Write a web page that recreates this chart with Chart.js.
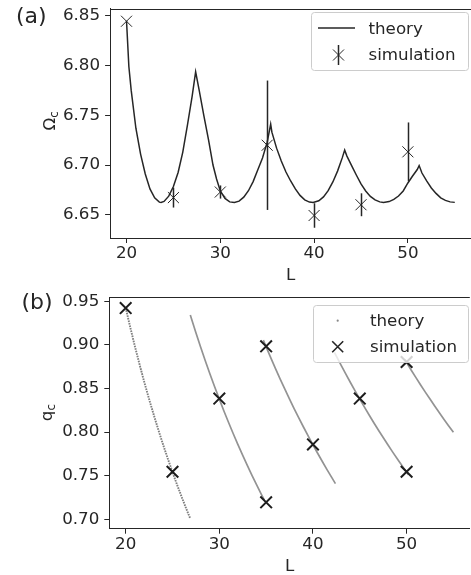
<!DOCTYPE html>
<html><head><meta charset="utf-8">
<script src="https://cdn.jsdelivr.net/npm/chart.js@4.4.1/dist/chart.umd.min.js"></script>
<style>
html,body{margin:0;padding:0;background:#fff;overflow:hidden;width:471px;height:575px;}
#wrapA{position:absolute;left:0;top:0;width:480px;height:287px;}
#wrapB{position:absolute;left:0;top:287px;width:480px;height:288px;}
canvas{display:block;}
</style></head><body>
<div id="wrapA"><canvas id="cA" width="480" height="287"></canvas></div>
<div id="wrapB"><canvas id="cB" width="480" height="288"></canvas></div>
<script>
// ---------- Panel (a): critical frequency ----------
const theoryL = [20.0,20.25,20.5,21.0,21.5,22.0,22.5,23.0,23.5,23.68,24.0,24.5,25.0,25.5,26.0,26.5,27.0,27.37,
  27.75,28.24,28.75,29.22,29.6,30.0,30.5,31.0,31.5,32.0,32.5,33.0,33.5,34.0,34.5,35.0,35.37,
  35.5,36.0,36.5,37.0,37.5,38.0,38.5,39.0,39.5,39.9,40.5,41.0,41.5,42.0,42.5,43.0,43.26,
  43.5,44.0,44.5,45.0,45.5,46.0,46.5,47.0,47.4,48.0,48.5,49.0,49.5,50.0,50.5,51.0,51.2,
  51.5,52.0,52.5,53.0,53.5,54.0,54.5,55.0];
const theoryOmega = [6.845,6.799,6.775,6.737,6.711,6.691,6.676,6.667,6.6627,6.6624,6.6634,6.6687,6.6784,6.6925,6.7130,6.7403,6.7693,6.7937,
  6.775,6.750,6.725,6.700,6.686,6.674,6.6665,6.663,6.6624,6.6637,6.6677,6.6742,6.6834,6.6952,6.707,6.723,6.741,
  6.733,6.717,6.704,6.693,6.684,6.676,6.6695,6.665,6.6628,6.6624,6.6641,6.668,6.6743,6.683,6.6939,6.7072,6.715,
  6.709,6.6995,6.690,6.681,6.674,6.6685,6.665,6.663,6.6624,6.6633,6.6655,6.6689,6.674,6.682,6.689,6.6955,6.6995,
  6.692,6.684,6.677,6.6715,6.667,6.6645,6.663,6.6625];
const simL = [20,25,30,35,40,45,50];
const simOmega = [6.8445,6.6673,6.6729,6.7199,6.6493,6.6601,6.7133];
const simOmegaErr = [0,0.010,0.0066,0.065,0.0123,0.0115,0.0295];
const omegaTicks = [6.65,6.70,6.75,6.80,6.85];
const lTicks = [20,30,40,50];

// ---------- Panel (b): critical wavenumber ----------
const branch1L = [20,20.5,21,21.5,22,22.5,23,23.5,24,24.5,25,25.5,26,26.5,26.9];
const branch1Q = [0.9425,0.9195,0.8976,0.8767,0.8568,0.8378,0.8196,0.8021,0.7854,0.7694,0.7540,0.7392,0.7250,0.7113,0.7007];
const branch2L = [26.9,27.5,28,28.5,29,29.5,30,30.5,31,31.5,32,32.5,33,33.5,34,34.5,34.8];
const branch2Q = [0.9342,0.9138,0.8975,0.8818,0.8666,0.8519,0.8377,0.8239,0.8107,0.7978,0.7853,0.7732,0.7615,0.7501,0.7391,0.7284,0.7222];
const branch3L = [34.7,35,35.5,36,36.5,37,37.5,38,38.5,39,39.5,40,40.5,41,41.5,42,42.4];
const branch3Q = [0.9054,0.8976,0.8850,0.8727,0.8607,0.8491,0.8378,0.8267,0.8160,0.8055,0.7953,0.7854,0.7757,0.7662,0.7570,0.7480,0.7409];
const branch4L = [42.3,42.5,43,43.5,44,44.5,45,45.5,46,46.5,47,47.5,48,48.5,49,49.5,50,50.2];
const branch4Q = [0.8912,0.8870,0.8767,0.8666,0.8568,0.8472,0.8378,0.8285,0.8195,0.8107,0.8021,0.7937,0.7854,0.7773,0.7694,0.7616,0.7540,0.7510];
const branch5L = [49.8,50,50.5,51,51.5,52,52.5,53,53.5,54,54.5,55];
const branch5Q = [0.8832,0.8796,0.8709,0.8624,0.8540,0.8458,0.8378,0.8298,0.8221,0.8145,0.8070,0.7997];
const simQL = [20,25,30,35,35,40,45,50,50];
const simQ = [0.9421,0.7545,0.8384,0.8983,0.7194,0.7858,0.8384,0.7545,0.8803];
const qTicks = [0.70,0.75,0.80,0.85,0.90,0.95];

const INK = '#262626';
const FONT = '"DejaVu Sans", "Liberation Sans", sans-serif';
const FS = 16.7;
Chart.defaults.font.family = FONT;
Chart.defaults.font.size = FS;
Chart.defaults.color = INK;

const pts = (xs, ys) => xs.map((v, i) => ({x: v, y: ys[i]}));

function axis(min, max, ticks, fmt, fit, isX, pad) {
  return {
    type: 'linear', min, max,
    afterBuildTicks: s => { s.ticks = ticks.map(v => ({value: v})); },
    afterFit: s => {
      if (isX) s.height = fit; else s.width = fit;
      s.paddingTop = 0; s.paddingBottom = 0; s.paddingLeft = 0; s.paddingRight = 0;
    },
    ticks: {callback: v => fmt(v), padding: pad, color: INK, font: {size: FS}, autoSkip: false, maxRotation: 0, minRotation: 0},
    grid: {drawOnChartArea: false, drawTicks: true, tickLength: 5, tickColor: INK, tickWidth: 1},
    border: {display: true, color: INK, width: 1}
  };
}

function legendBox(ctx, x0, y0, x1, y1) {
  ctx.save();
  ctx.beginPath();
  ctx.roundRect(x0 + 0.5, y0 + 0.5, x1 - x0, y1 - y0, 3);
  ctx.fillStyle = 'rgba(255,255,255,0.8)';
  ctx.fill();
  ctx.strokeStyle = '#cccccc';
  ctx.lineWidth = 1;
  ctx.stroke();
  ctx.restore();
}
function drawX(ctx, cx, cy, h, lw, color) {
  ctx.save();
  ctx.strokeStyle = color; ctx.lineWidth = lw;
  ctx.beginPath();
  ctx.moveTo(cx - h, cy - h); ctx.lineTo(cx + h, cy + h);
  ctx.moveTo(cx - h, cy + h); ctx.lineTo(cx + h, cy - h);
  ctx.stroke();
  ctx.restore();
}
function subLabel(ctx, main, sub, bx, cy) {
  ctx.save();
  ctx.font = FS + 'px ' + FONT;
  const w1 = ctx.measureText(main).width;
  ctx.font = (FS * 0.7) + 'px ' + FONT;
  const w2 = ctx.measureText(sub).width;
  const tot = w1 + w2;
  ctx.translate(bx, cy);
  ctx.rotate(-Math.PI / 2);
  ctx.fillStyle = INK; ctx.textBaseline = 'alphabetic'; ctx.textAlign = 'left';
  ctx.font = FS + 'px ' + FONT;
  ctx.fillText(main, -tot / 2, 0);
  ctx.font = (FS * 0.7) + 'px ' + FONT;
  ctx.fillText(sub, -tot / 2 + w1, 3.3);
  ctx.restore();
}
function topSpine(ctx, a) {
  ctx.save();
  ctx.strokeStyle = INK; ctx.lineWidth = 1;
  const y = Math.round(a.top) + 0.5;
  ctx.beginPath(); ctx.moveTo(a.left, y); ctx.lineTo(a.right, y); ctx.stroke();
  ctx.restore();
}
function text(ctx, s, x, y, size, align) {
  ctx.save();
  ctx.fillStyle = INK; ctx.font = size + 'px ' + FONT;
  ctx.textAlign = align || 'left'; ctx.textBaseline = 'alphabetic';
  ctx.fillText(s, x, y);
  ctx.restore();
}

const decorA = {
  id: 'decorA',
  afterDatasetsDraw(chart) {
    const {ctx, chartArea: a, scales: {x, y}} = chart;
    ctx.save();
    ctx.strokeStyle = INK; ctx.lineWidth = 1.5;
    simL.forEach((L, i) => {
      const e = simOmegaErr[i];
      if (!e) return;
      const px = Math.round(x.getPixelForValue(L)) + 0.5;
      ctx.beginPath();
      ctx.moveTo(px, y.getPixelForValue(simOmega[i] - e));
      ctx.lineTo(px, y.getPixelForValue(simOmega[i] + e));
      ctx.stroke();
    });
    ctx.restore();
    topSpine(ctx, a);
    // legend
    legendBox(ctx, 311, 12, 468, 70);
    ctx.save();
    ctx.strokeStyle = INK; ctx.lineWidth = 1.5;
    ctx.beginPath(); ctx.moveTo(318, 28); ctx.lineTo(355, 28); ctx.stroke();
    ctx.lineWidth = 1.5;
    ctx.beginPath(); ctx.moveTo(338.5, 45); ctx.lineTo(338.5, 65); ctx.stroke();
    ctx.restore();
    drawX(ctx, 338.5, 55, 5.5, 1, INK);
    text(ctx, 'theory', 368.5, 33.5, FS);
    text(ctx, 'simulation', 368.5, 60, FS);
  },
  afterDraw(chart) {
    const {ctx, chartArea: a} = chart;
    text(ctx, '(a)', 16, 22.5, 22);
    text(ctx, 'L', (a.left + a.right) / 2, 280, FS, 'center');
    subLabel(ctx, 'Ω', 'c', 55, 121);
  }
};

const decorB = {
  id: 'decorB',
  afterDatasetsDraw(chart) {
    const {ctx, chartArea: a} = chart;
    topSpine(ctx, a);
    legendBox(ctx, 313, 18, 468, 75);
    ctx.save();
    ctx.fillStyle = '#888888';
    ctx.beginPath(); ctx.arc(337.7, 33.7, 1.1, 0, Math.PI * 2); ctx.fill();
    ctx.restore();
    drawX(ctx, 337.7, 59.7, 5.5, 1.6, INK);
    text(ctx, 'theory', 370, 39, FS);
    text(ctx, 'simulation', 370, 64.7, FS);
  },
  afterDraw(chart) {
    const {ctx, chartArea: a} = chart;
    text(ctx, '(b)', 21.5, 21.5, 22);
    text(ctx, 'L', (a.left + a.right) / 2, 284, FS, 'center');
    subLabel(ctx, 'q', 'c', 52, 125.7);
  }
};

const common = {
  responsive: false, animation: false, events: [],
  plugins: {legend: {display: false}, tooltip: {enabled: false}}
};

new Chart(document.getElementById('cA'), {
  type: 'scatter',
  data: {datasets: [
    {label: 'simulation', data: pts(simL, simOmega), order: 0,
     pointStyle: 'crossRot', pointRadius: 7.8, borderColor: INK, backgroundColor: INK, borderWidth: 1, showLine: false},
    {label: 'theory', data: pts(theoryL, theoryOmega), order: 1,
     showLine: true, pointRadius: 0, borderColor: INK, borderWidth: 1.5, tension: 0, fill: false}
  ]},
  options: Object.assign({}, common, {
    layout: {padding: {left: 0, right: 480 - 475.8, top: 4, bottom: 0}},
    scales: {
      x: axis(18.25, 56.75, lTicks, v => String(v), 287 - 238, true, 1),
      y: axis(6.6267, 6.857, omegaTicks, v => v.toFixed(2), 110.1, false, 5)
    }
  }),
  plugins: [decorA]
});

const gray = 'rgba(135,135,135,0.9)';
const br = (xs, ys, dash, col, w) => ({label: 'theory', data: pts(xs, ys), order: 1, showLine: true, pointRadius: 0,
  borderColor: col || gray, borderWidth: w || 1.7, borderDash: dash || [], tension: 0, fill: false});

new Chart(document.getElementById('cB'), {
  type: 'scatter',
  data: {datasets: [
    {label: 'simulation', data: pts(simQL, simQ), order: 0,
     pointStyle: 'crossRot', pointRadius: 8.2, borderColor: '#1e1e1e', backgroundColor: '#1e1e1e', borderWidth: 2, showLine: false},
    br(branch1L, branch1Q, [1.6, 1.0], 'rgba(120,120,120,0.95)', 1.9),
    br(branch2L, branch2Q),
    br(branch3L, branch3Q),
    br(branch4L, branch4Q),
    br(branch5L, branch5Q)
  ]},
  options: Object.assign({}, common, {
    layout: {padding: {left: 0, right: 480 - 477.2, top: 9.7, bottom: 0}},
    scales: {
      x: axis(18.25, 56.75, lTicks, v => String(v), 288 - 241.7, true, 1),
      y: axis(0.6892, 0.9546, qTicks, v => v.toFixed(2), 109.3, false, 5)
    }
  }),
  plugins: [decorB]
});
</script>
</body></html>
